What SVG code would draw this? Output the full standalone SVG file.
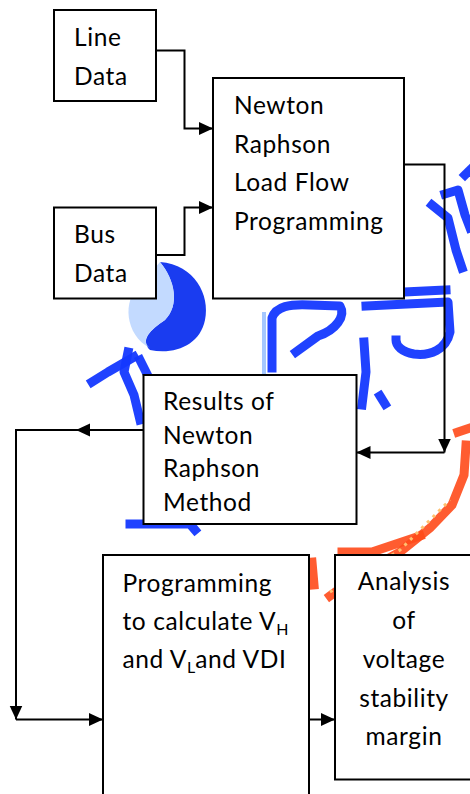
<svg xmlns="http://www.w3.org/2000/svg" width="470" height="794" viewBox="0 0 470 794">
  <style>
    .box { fill: #ffffff; stroke: #000000; stroke-width: 2; }
    .lbl { font-family: Lato, "Liberation Sans", sans-serif; font-size: 24.5px; letter-spacing: 0.6px; fill: #000000; }
    .mid { text-anchor: middle; }
    .sub { font-size: 16px; letter-spacing: 0; }
    .wire { fill: none; stroke: #000000; stroke-width: 2; }
    .wmb { fill: none; stroke: #1438ff; stroke-width: 9; stroke-linecap: square; stroke-linejoin: round; opacity: 0.95; }
    .wmb2 { fill: none; stroke: #7fb0ff; stroke-width: 4; stroke-linecap: square; opacity: 0.7; }
    .wmr { fill: none; stroke: #ff4a1a; stroke-width: 9; stroke-linecap: square; opacity: 0.9; }
    .wmr2 { fill: none; stroke: #ffc070; stroke-width: 3; stroke-dasharray: 3 5; }
  </style>
  <defs>
    <marker id="arrow" markerUnits="userSpaceOnUse" markerWidth="14" markerHeight="14" refX="14" refY="6.5" orient="auto">
      <path d="M0,0 L14,6.5 L0,13 Z" fill="#000000"/>
    </marker>
  </defs>

  <rect width="470" height="794" fill="#ffffff"/>

  <!-- background stamp strokes -->
  <g id="stamp">
    <path d="M160,262 C195,265 210,295 205,320 C200,345 175,355 150,350 C140,340 150,330 165,320 C180,305 175,280 160,262 Z" fill="#1a3cf0"/>
    <path d="M160,262 C175,280 180,305 165,320 C150,330 140,340 150,348 C125,335 122,300 140,285 Z" fill="#b8d4ff" opacity="0.85"/>
    <path class="wmb" d="M134,357 L108,372 L92,382"/>
    <path class="wmb" d="M128,352 L124,372 L134,395 L140,420"/>
    <path class="wmb" d="M140,360 L146,372"/>
    <path class="wmb" d="M272,368 L272,318 C276,306 290,304 310,305 L340,306 C346,316 336,330 318,336 L296,352"/>
    <path class="wmb2" d="M264,314 L264,372"/>
    <path class="wmb" d="M364,342 L366,372 L362,405"/>
    <path class="wmb" d="M366,306 L448,302 L450,332 C446,350 430,356 414,354 C402,352 396,346 396,340"/>
    <path class="wmb" d="M404,292 L446,290"/>
    <path class="wmb" d="M445,194 L458,190 L465,215 L470,228"/>
    <path class="wmb" d="M432,205 L448,218 L456,250 L462,268"/>
    <path class="wmb" d="M465,175 L470,170"/>
    <path class="wmb" d="M380,396 L385,404"/>
    <path class="wmb" d="M130,524 L190,524 L195,530"/>
    <path class="wmb" d="M200,386 L208,380"/>
    <path class="wmr" d="M330,596 L360,574 L400,552 L430,528 L452,505 L464,475 L466,445"/>
    <path class="wmr" d="M342,552 L372,552 L420,536"/>
    <path class="wmr" d="M458,432 L470,428"/>
    <path class="wmr" d="M312,562 L314,585"/>
    <path class="wmr2" d="M330,592 L400,550 L450,500"/>
  </g>

  <g id="line-data">
    <rect class="box" x="54" y="10" width="102" height="91"/>
    <text class="lbl" x="74" y="46">Line</text>
    <text class="lbl" x="74" y="85">Data</text>
  </g>

  <g id="bus-data">
    <rect class="box" x="54" y="207.5" width="102" height="91"/>
    <text class="lbl" x="74" y="243">Bus</text>
    <text class="lbl" x="74" y="282">Data</text>
  </g>

  <g id="newton-raphson">
    <rect class="box" x="213" y="78" width="191" height="220.5"/>
    <text class="lbl" x="234" y="114">Newton</text>
    <text class="lbl" x="234" y="152.5">Raphson</text>
    <text class="lbl" x="234" y="191">Load Flow</text>
    <text class="lbl" x="234" y="229.5">Programming</text>
  </g>

  <g id="results">
    <rect class="box" x="143.5" y="375" width="213" height="149"/>
    <text class="lbl" x="163" y="410">Results of</text>
    <text class="lbl" x="163" y="443.5">Newton</text>
    <text class="lbl" x="163" y="477">Raphson</text>
    <text class="lbl" x="163" y="510.5">Method</text>
  </g>

  <g id="vdi-program">
    <rect class="box" x="103" y="555" width="206" height="250"/>
    <text class="lbl" x="122.5" y="591.5">Programming</text>
    <text class="lbl" x="122.5" y="630">to calculate V<tspan class="sub" dy="5">H</tspan></text>
    <text class="lbl" x="122.5" y="668">and V<tspan class="sub" dy="5">L</tspan><tspan dy="-5">and VDI</tspan></text>
  </g>

  <g id="stability">
    <rect class="box" x="335" y="555" width="145" height="224.5"/>
    <text class="lbl mid" x="404" y="590">Analysis</text>
    <text class="lbl mid" x="404" y="629">of</text>
    <text class="lbl mid" x="404" y="668">voltage</text>
    <text class="lbl mid" x="404" y="706.5">stability</text>
    <text class="lbl mid" x="404" y="745">margin</text>
  </g>

  <g id="connectors">
    <path class="wire" d="M156,50.5 H184.5 V128.5 H213" marker-end="url(#arrow)"/>
    <path class="wire" d="M156,255 H184.5 V207.5 H213" marker-end="url(#arrow)"/>
    <path class="wire" d="M404,164.5 H444.5 V452.5" marker-end="url(#arrow)"/>
    <path class="wire" d="M444.5,452.5 H356.5" marker-end="url(#arrow)"/>
    <path class="wire" d="M143.5,430 H76" marker-end="url(#arrow)"/>
    <path class="wire" d="M76,430 H16 V719.5" marker-end="url(#arrow)"/>
    <path class="wire" d="M16,719.5 H103" marker-end="url(#arrow)"/>
    <path class="wire" d="M309,719.5 H335" marker-end="url(#arrow)"/>
  </g>
</svg>
